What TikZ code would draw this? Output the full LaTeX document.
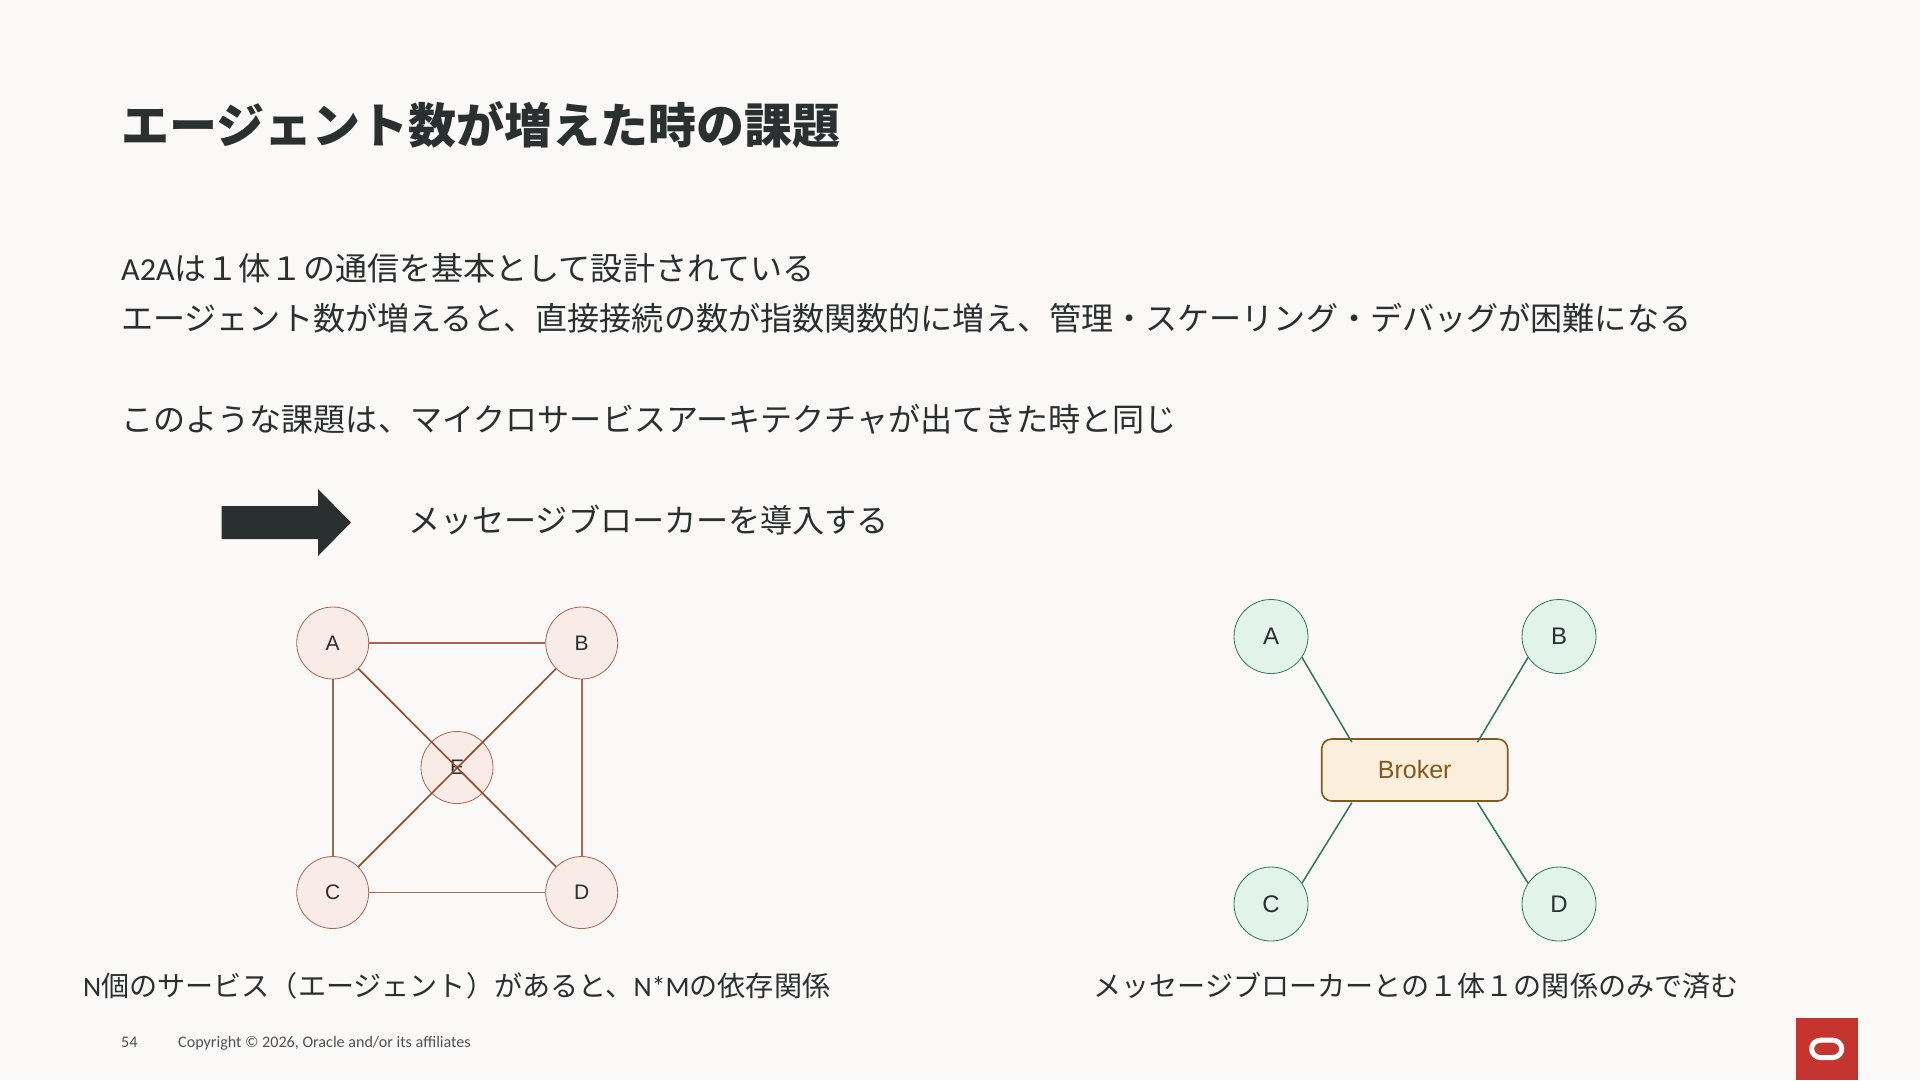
\documentclass[tikz,border=0pt]{standalone}
\usepackage{fontspec}
\setmainfont{Carlito}
\newfontfamily\cjk{Noto Sans CJK JP}
\newfontfamily\labfont{Liberation Sans}
\usetikzlibrary{calc}
\definecolor{bgc}{HTML}{FBF9F8}
\definecolor{inkc}{HTML}{2A2F2F}
\definecolor{footc}{HTML}{4F5254}
\definecolor{redfill}{HTML}{F9ECE6}
\definecolor{redline}{HTML}{A8654F}
\definecolor{redlined}{HTML}{8F5038}
\definecolor{grnfill}{HTML}{E2F3EC}
\definecolor{grnline}{HTML}{2E7560}
\definecolor{brkfill}{HTML}{FBEEDC}
\definecolor{brkline}{HTML}{86581C}
\definecolor{orared}{HTML}{C5342E}
\newcommand{\fs}[1]{\fontsize{#1}{#1}\selectfont}
\tikzset{
  x=1pt,y=-1pt,
  txt/.style={anchor=base west,inner sep=0pt,text=inkc,font=\fs{32.1}\cjk},
  capt/.style={txt,font=\fs{28.1}\cjk},
  foot/.style={anchor=base west,inner sep=0pt,text=footc,font=\fs{16.1}},
  redn/.style={circle,draw=redline,fill=redfill,line width=0.8pt,minimum size=72pt,inner sep=0pt,text=inkc,font=\fs{21}\labfont},
  grnn/.style={circle,draw=grnline,fill=grnfill,line width=0.8pt,minimum size=74pt,inner sep=0pt,text=inkc,font=\fs{24}\labfont},
  redl/.style={draw=redline,line width=1.8pt},
  redd/.style={draw=redlined,line width=1.7pt},
  grnl/.style={draw=grnline,line width=1.5pt},
}
\begin{document}
\begin{tikzpicture}
\useasboundingbox (0,0) rectangle (1920,1080);
\fill[bgc] (0,0) rectangle (1920,1080);
\node[txt,font=\fs{48}\cjk\bfseries] (title) at (121,143) {エージェント数が増えた時の課題};
\node[txt] (l1) at (121,280) {{\fontspec{Carlito}A2A}は１体１の通信を基本として設計されている};
\node[txt] (l2) at (121,330) {エージェント数が増えると、直接接続の数が指数関数的に増え、管理・スケーリング・デバッグが困難になる};
\node[txt] (l3) at (121,431) {このような課題は、マイクロサービスアーキテクチャが出てきた時と同じ};
\node[txt] (l4) at (408,532) {メッセージブローカーを導入する};
\fill[inkc] (221.7,506) -- (318,506) -- (318,489) -- (351,522.5) -- (318,556) -- (318,539) -- (221.7,539) -- cycle;
% left graph
\node[redn] (E) at (457,767.5) {E};
\node[redn] (A) at (332.7,643) {A};
\node[redn] (B) at (581.7,643) {B};
\node[redn] (C) at (332.7,892.5) {C};
\node[redn] (D) at (581.7,892.5) {D};
\draw[redl] (A) -- (B);
\draw[redl] (A) -- (C);
\draw[redl] (B) -- (D);
\draw[redl] (C) -- (D);
\draw[redd] (A) -- (D);
\draw[redd] (B) -- (C);
% right graph
\node[grnn] (ra) at (1271,636.5) {A};
\node[grnn] (rb) at (1559,636.5) {B};
\node[grnn] (rc) at (1271,904) {C};
\node[grnn] (rd) at (1559,904) {D};
\node[draw=brkline,fill=brkfill,line width=1.6pt,rounded corners=10pt,minimum width=186pt,minimum height=62pt,inner sep=0pt,text=brkline,font=\fs{25}\labfont] (br) at (1414.7,770) {Broker};
\draw[grnl] (ra.-34) -- ($(br.north west)+(31,4)$);
\draw[grnl] (rb.214) -- ($(br.north east)+(-31,4)$);
\draw[grnl] (rc.34) -- ($(br.south west)+(31,0.8)$);
\draw[grnl] (rd.146) -- ($(br.south east)+(-31,0.8)$);
\node[capt] (c1) at (83,996) {{\fontspec{Carlito}N}個のサービス（エージェント）があると、{\fontspec{Carlito}N*M}の依存関係};
\node[capt] (c2) at (1093,996) {メッセージブローカーとの１体１の関係のみで済む};
\node[foot] (pg) at (121,1047) {54};
\node[foot] (copy) at (178,1047) {Copyright © 2026, Oracle and/or its affiliates};
\fill[orared] (1795.7,1018) rectangle (1858,1080);
\draw[white,line width=5pt,rounded corners=9pt] (1811.5,1040.2) rectangle (1841.8,1057.5);
\end{tikzpicture}
\end{document}
